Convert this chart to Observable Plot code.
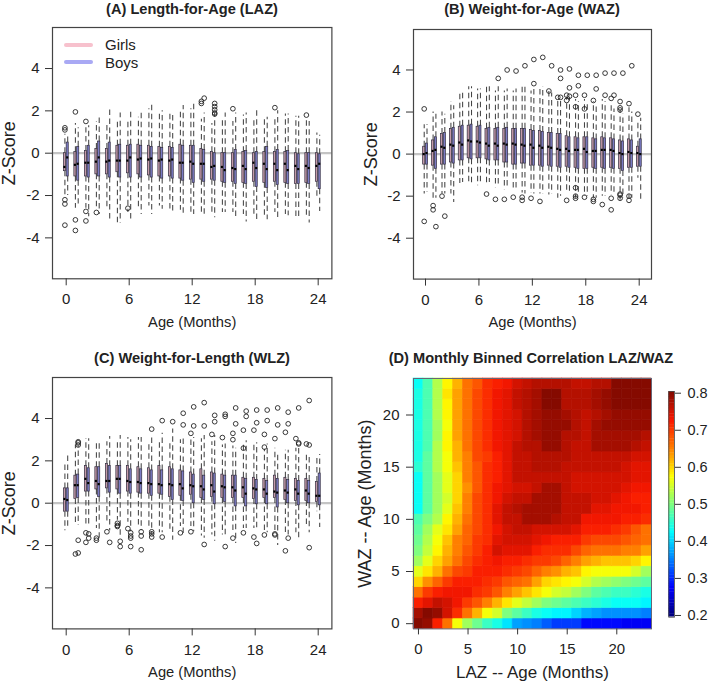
<!DOCTYPE html>
<html><head><meta charset="utf-8">
<script src="https://cdn.jsdelivr.net/npm/d3@7"></script>
<script src="https://cdn.jsdelivr.net/npm/@observablehq/plot@0.6"></script>
<style>
html,body{margin:0;padding:0;background:#fff}
#page{position:relative;width:709px;height:682px;overflow:hidden;font-family:"Liberation Sans",Arial,sans-serif;color:#222}
#page svg{position:absolute;background:transparent;font-family:"Liberation Sans",Arial,sans-serif;overflow:visible}
#page figure{margin:0}
.t{position:absolute;font-weight:bold;font-size:14.6px;text-align:center;white-space:nowrap}
.lg{position:absolute;font-size:15px;white-space:nowrap}
.sw{position:absolute;height:4px;width:29px;border-radius:2px}
g[aria-label="y-axis label"] text{font-size:18px}
g[aria-label="x-axis label"] text{font-size:14.7px}
.big g[aria-label="x-axis label"] text{font-size:17px}
</style></head><body><div id="page"></div>
<script>
const ages=d3.range(0,25);
const zTicks=[-4,-2,0,2,4], ageTicks=[0,6,12,18,24];

// (A) LAZ
const lazGirlQ1=[-.85,-1.1,-1.1,-1,-1,-.9,-.95,-1,-1.05,-1.1,-1.1,-1.2,-1.25,-1.25,-1.25,-1.35,-1.35,-1.4,-1.35,-1.4,-1.35,-1.4,-1.45,-1.4,-1.35];
const lazGirlQ3=[0,.05,.1,.2,.2,.35,.35,.4,.35,.3,.3,.4,.35,.2,.05,0,0,.05,0,.05,.05,.05,0,0,0];
const lazGirlMed=[-.65,-.55,-.45,-.4,-.4,-.35,-.35,-.3,-.3,-.35,-.35,-.45,-.4,-.5,-.65,-.65,-.7,-.6,-.45,-.5,-.5,-.5,-.6,-.6,-.6];
const lazGirlHi=[.9,1.4,1.2,1.5,1.4,1.6,1.6,1.7,2.1,1.95,1.95,2.1,2.1,1.6,1.4,1.6,1.5,1.8,1.7,1.65,1.65,1.85,1.75,1.65,.95];
const lazGirlLo=[-2.1,-2.6,-2.6,-2.6,-2.7,-3.3,-2.8,-2.7,-2.5,-2.5,-2.8,-2.7,-2.9,-2.9,-2.8,-2.8,-2.8,-2.9,-3,-3,-2.8,-2.9,-3,-3,-2.1];
const lazBoyQ1=[-1.1,-1.3,-1.15,-1.1,-1.15,-1.15,-1.15,-1.15,-1.15,-1.2,-1.2,-1.3,-1.4,-1.35,-1.3,-1.4,-1.45,-1.45,-1.6,-1.65,-1.5,-1.45,-1.45,-1.45,-1.7];
const lazBoyQ3=[.5,.3,.35,.55,.5,.4,.4,.35,.3,.25,.25,.35,.35,.15,0,0,.15,.1,.05,.3,.15,.1,-.05,0,-.05];
const lazBoyMed=[-.2,-.5,-.45,-.2,-.35,-.35,-.2,-.25,-.25,-.3,-.3,-.45,-.5,-.5,-.6,-.8,-.75,-.75,-.7,-.75,-.8,-.8,-.75,-.7,-.5];
const lazBoyHi=[.9,1.2,1.3,1.7,2.2,1.9,2,1.9,2.4,2,1.9,2.25,2.45,1.9,1.9,1.9,1.9,1.9,2,1.7,2,1.85,1.75,1.5,.85];
const lazBoyLo=[-2,-2.4,-3,-2.9,-3.2,-3.3,-3.25,-2.9,-2.9,-2.65,-2.9,-2.9,-2.9,-2.9,-3.05,-2.8,-3,-3.25,-3.3,-3.15,-3.2,-2.95,-3,-3.3,-2.75];
const lazOutGirl=[[0,1.2],[0,1.1],[0,-2.2],[0,-2.4],[0,-3.4],[1,1.95],[1,-3.15],[1,-3.65],[2,1.5],[2,-2.75],[2,-3.2],[3,-2.8],[6,-2.6],[13,2.35],[13,2.45],[16,2.1],[20,2.15],[23,1.8]];
const lazOutBoy=[[13,2.6],[14,2.35],[14,2.2],[14,2.05],[14,1.9],[14,1.85]];

// (B) WAZ
const wazGirlQ1=[-.5,-.55,-.5,-.4,-.3,-.2,-.2,-.25,-.3,-.4,-.5,-.45,-.55,-.55,-.55,-.6,-.6,-.65,-.7,-.65,-.65,-.65,-.7,-.65,-.6];
const wazGirlQ3=[.35,.65,.95,1.2,1.3,1.35,1.3,1.2,1.2,1.2,1.2,1.2,1.15,1.1,1,.95,.85,.8,.8,.75,.8,.75,.65,.7,.35];
const wazGirlMed=[0,.15,.35,.45,.55,.65,.6,.5,.5,.5,.5,.45,.45,.4,.35,.25,.25,.2,.25,.15,.2,.2,.05,.1,.05];
const wazGirlHi=[1.4,2,2,2.5,2.9,3.2,3.1,3.2,3,3,3,3.3,3,3.2,3,2.6,2.7,2.6,2.6,2.5,2.6,2.3,2.1,2.2,1.5];
const wazGirlLo=[-1.9,-2.1,-1.9,-1.9,-1.4,-1.4,-1.5,-1.5,-1.6,-1.7,-1.75,-1.85,-1.85,-1.9,-1.95,-2.1,-1.8,-2.1,-2,-2.1,-2,-1.95,-2.2,-2.1,-1.15];
const wazBoyQ1=[-.5,-.7,-.5,-.45,-.3,-.25,-.2,-.3,-.3,-.4,-.5,-.45,-.55,-.6,-.6,-.65,-.65,-.7,-.7,-.7,-.7,-.7,-.8,-.65,-.6];
const wazBoyQ3=[.5,.8,1,1.25,1.35,1.4,1.35,1.25,1.25,1.25,1.2,1.2,1.1,1.05,1,.95,.8,.75,.8,.7,.75,.7,.6,.65,.7];
const wazBoyMed=[.05,.2,.3,.4,.45,.6,.55,.4,.4,.45,.45,.4,.3,.3,.3,.2,.15,.2,.1,.15,.2,.15,0,.05,0];
const wazBoyHi=[1.4,1.9,1.9,2.3,2.9,3.2,3.1,3.2,3.2,3.1,3.1,3.3,3.2,3.2,2.9,2.6,2.7,2.5,2.5,2.4,2.5,2.15,1.9,2,1.7];
const wazBoyLo=[-1.8,-2.1,-1.9,-2.3,-1.35,-1.4,-1.4,-1.35,-1.5,-1.6,-1.75,-1.9,-1.9,-1.9,-1.9,-2,-1.8,-1.85,-2,-2.1,-2,-1.9,-2.1,-2.1,-2.2];
const wazOutGirl=[[0,2.15],[0,-3.2],[1,-2.45],[1,-2.65],[2,-2],[7,-1.9],[8,-2.15],[9,-2.15],[10,-2.05],[11,-2.05],[11,-2.2],[12,-2.1],[13,-2.25],[14,3],[15,2.7],[16,2.8],[16,2.55],[16,-2.2],[17,2.8],[17,2.25],[17,-1.6],[17,-2],[17,-2.1],[18,2.8],[18,2.15],[18,-2.05],[19,2.55],[19,-2.15],[19,-2.25],[20,-2.4],[21,2.65],[21,-2.1],[21,-2.65],[22,2.5],[22,2.2],[22,2.1],[22,-1.9],[22,-1.95],[22,-2.1],[23,2.4],[23,-2],[23,-2.2],[24,1.9]];
const wazOutBoy=[[1,-3.45],[2,-2.95],[8,3.6],[9,4],[10,3.95],[11,4.2],[12,4.5],[12,3.35],[13,4.6],[14,4.2],[15,4],[15,3.6],[15,2.7],[16,4.05],[16,3.15],[16,2.75],[17,3.75],[17,3.25],[18,3.75],[19,3.75],[19,3.1],[20,3.85],[20,2.8],[21,3.85],[21,2.8],[22,3.85],[23,4.2]];

// (C) WLZ
const wlzGirlQ1=[-.4,.2,.55,.65,.7,.65,.55,.5,.45,.45,.3,.35,.4,.25,.3,.25,.25,.25,.2,.25,.25,.15,.1,.1,.05];
const wlzGirlQ3=[.7,1.3,1.75,1.7,1.85,1.75,1.75,1.7,1.65,1.75,1.7,1.55,1.45,1.6,1.45,1.35,1.3,1.2,1.2,1.15,1.3,1.2,1.15,1.15,1];
const wlzGirlMed=[.2,.85,1.15,1.05,1.05,1.15,1.05,1,.95,.9,.9,.9,.85,.8,.85,.8,.75,.75,.7,.65,.55,.6,.65,.6,.35];
const wlzGirlHi=[1.9,2.75,3.05,2.95,2.9,2.95,3.1,3.1,2.85,2.85,2.9,3,3.1,3.05,2.9,2.75,2.7,2.8,2.8,2.55,2.6,2.5,2.6,2.4,2.2];
const wlzGirlLo=[-1.3,-1,-1,-1.2,-.9,-.8,-.9,-1.15,-1.2,-1.4,-1.4,-1.1,-1.1,-1.55,-1.5,-1.5,-1.4,-1.2,-1.2,-1.3,-1.3,-1.4,-1.4,-1.1,-.4];
const wlzBoyQ1=[-.4,.25,.55,.3,.5,.45,.45,.45,.35,.4,.15,.1,0,.15,-.05,.05,-.15,-.15,-.05,-.05,-.2,0,-.1,0,-.1];
const wlzBoyQ3=[.7,1.35,1.65,1.7,1.75,1.75,1.6,1.6,1.55,1.55,1.6,1.5,1.35,1.3,1.4,1.3,1.3,1.15,1.1,1.05,1.15,1.1,1.05,1.05,1.4];
const wlzBoyMed=[.15,.85,.95,.9,1.05,1.15,1,.95,.9,.85,.85,.7,.8,.65,.55,.75,.6,.45,.65,.45,.5,.5,.45,.45,.35];
const wlzBoyHi=[2.3,2.7,3.05,2.85,3.15,3.2,3,3.1,3.1,3.3,3.5,3.2,3.1,3.2,3.2,2.8,2.6,2.95,2.85,2.8,2.4,2.5,2.6,2.3,2.3];
const wlzBoyLo=[-1.1,-1.05,-1.1,-1.65,-1.3,-1.6,-1.35,-1.3,-1.5,-1.4,-1.75,-1.5,-1.35,-1.65,-1.8,-1.6,-1.9,-1.2,-1.3,-1.4,-2,-1.5,-1.65,-1.4,-1.15];
const wlzOutGirl=[[1,-2.4],[2,-1.4],[2,-1.85],[3,-1.65],[3,-1.75],[4,-1.35],[5,-.95],[5,-1.05],[5,-1.1],[6,-1.2],[11,-1.4],[12,3.3],[12,-1.35],[14,3.25],[15,3.1],[16,3.3],[16,3],[16,-1.65],[17,3.45],[17,2.6],[17,-1.4],[18,3.45],[18,-1.6],[19,3.25],[19,2.65],[19,-1.5],[20,3.05],[20,-1.45],[20,-1.5],[21,3.35],[21,-2.25],[22,3.05],[23,2.8]];
const wlzOutBoy=[[1,-2.35],[1,2.9],[1,2.85],[1,2.75],[1,-1.75],[2,-1.45],[2,-1.65],[4,-1.85],[5,-1.8],[5,-2.05],[6,-1.4],[6,-1.55],[6,-1.65],[6,-2.05],[7,-1.35],[7,-1.55],[7,-2.2],[8,3.5],[8,-1.35],[8,-1.45],[8,-1.6],[9,3.9],[9,-1.6],[10,3.85],[11,4.25],[11,3.7],[12,4.55],[12,3.65],[13,4.75],[13,3.65],[13,-1.95],[14,4.15],[14,3.85],[15,4.2],[15,4.1],[15,-2.05],[16,4.5],[16,3.75],[17,4.35],[17,4.1],[18,4.4],[18,3.8],[18,-1.9],[19,4.4],[19,3.9],[20,4.5],[20,3.7],[21,4.3],[21,3.75],[21,-1.65],[22,4.5],[22,2.85],[22,2.8],[23,4.85],[23,2.75],[23,-2.1]];

// (D) correlation, rows from WAZ month 0 upward, columns LAZ month 0..23
const corrMonths=d3.range(0,24);
const corrRows=[
[.80,.79,.72,.66,.57,.52,.49,.46,.44,.41,.37,.36,.35,.33,.31,.31,.31,.28,.28,.28,.28,.27,.27,.27],
[.78,.80,.79,.75,.71,.66,.62,.57,.55,.50,.48,.46,.44,.43,.42,.42,.40,.38,.37,.36,.36,.36,.36,.35],
[.72,.74,.76,.75,.73,.70,.68,.65,.62,.59,.56,.54,.52,.50,.49,.48,.47,.46,.45,.44,.43,.43,.43,.42],
[.66,.70,.72,.73,.73,.73,.71,.70,.68,.65,.63,.61,.59,.57,.55,.54,.52,.50,.48,.47,.46,.46,.45,.44],
[.60,.64,.67,.70,.72,.72,.72,.71,.70,.68,.67,.66,.63,.60,.59,.58,.57,.55,.53,.52,.51,.50,.49,.48],
[.56,.59,.62,.66,.69,.70,.72,.72,.72,.71,.70,.69,.67,.65,.64,.62,.61,.58,.57,.57,.57,.57,.55,.52],
[.52,.56,.60,.63,.66,.69,.71,.72,.73,.72,.72,.71,.70,.70,.69,.67,.65,.63,.62,.61,.61,.61,.60,.58],
[.50,.54,.58,.62,.65,.68,.70,.72,.75,.74,.74,.74,.72,.71,.71,.71,.69,.67,.66,.66,.66,.65,.65,.63],
[.49,.53,.57,.61,.65,.67,.70,.71,.74,.75,.75,.75,.74,.73,.72,.72,.72,.70,.69,.69,.69,.68,.67,.66],
[.48,.52,.56,.59,.63,.67,.69,.71,.73,.75,.76,.76,.75,.75,.75,.75,.74,.72,.72,.72,.71,.70,.68,.66],
[.47,.50,.53,.58,.62,.66,.69,.71,.74,.76,.76,.78,.78,.78,.77,.76,.76,.73,.73,.73,.73,.72,.72,.71],
[.43,.48,.52,.56,.61,.65,.69,.71,.74,.76,.77,.78,.78,.78,.78,.76,.76,.76,.74,.74,.73,.73,.73,.72],
[.43,.48,.52,.55,.60,.65,.69,.71,.73,.75,.76,.76,.78,.78,.78,.76,.76,.76,.75,.75,.74,.73,.72,.72],
[.43,.48,.52,.56,.60,.64,.68,.71,.73,.74,.75,.75,.76,.78,.78,.76,.75,.75,.75,.75,.75,.74,.73,.73],
[.43,.48,.52,.56,.60,.65,.68,.71,.72,.74,.76,.76,.76,.76,.76,.76,.75,.75,.75,.75,.75,.75,.74,.74],
[.45,.48,.53,.57,.61,.65,.68,.71,.72,.74,.76,.76,.77,.77,.77,.76,.76,.76,.76,.76,.76,.75,.74,.74],
[.44,.48,.53,.57,.62,.65,.69,.70,.72,.74,.76,.76,.77,.77,.77,.77,.76,.76,.76,.76,.76,.76,.75,.75],
[.44,.47,.53,.58,.62,.66,.69,.71,.73,.74,.76,.77,.77,.79,.79,.77,.76,.76,.78,.78,.78,.78,.77,.76],
[.44,.47,.52,.58,.63,.66,.69,.71,.73,.74,.75,.77,.78,.79,.79,.77,.77,.76,.78,.78,.78,.78,.78,.77],
[.44,.47,.52,.57,.63,.66,.69,.71,.73,.74,.75,.77,.78,.79,.79,.79,.77,.76,.78,.79,.79,.79,.79,.79],
[.44,.47,.53,.58,.63,.66,.69,.71,.73,.74,.75,.77,.78,.79,.79,.78,.77,.76,.77,.78,.79,.79,.79,.79],
[.44,.47,.53,.58,.63,.66,.69,.71,.73,.74,.76,.77,.78,.80,.80,.77,.77,.77,.78,.79,.80,.80,.80,.80],
[.44,.47,.53,.59,.63,.66,.69,.71,.73,.74,.76,.77,.78,.80,.80,.77,.77,.77,.78,.79,.80,.80,.80,.80],
[.43,.47,.53,.58,.62,.66,.68,.71,.72,.73,.75,.76,.77,.77,.77,.77,.76,.76,.77,.77,.80,.80,.80,.80]];
const jet=["#00007f","#0000ff","#007fff","#00ffff","#7fff7f","#ffff00","#ff7f00","#fa1800","#850a00"];
const colorDomain=jet.map((_,i)=>.2+.6*i/8);
const barTicks=[.2,.3,.4,.5,.6,.7,.8];
const barLevels=d3.range(.2,.8001,.0075);

const page=document.getElementById("page");
const ink="#333";
function place(svg,left,top){svg.style.left=left+"px";svg.style.top=top+"px";page.appendChild(svg);}
function html(cls,txt,css){const d=document.createElement("div");d.className=cls;d.textContent=txt;Object.assign(d.style,css);page.appendChild(d);}

function boxes(g,oPx,pxPerMonth){
  const off=oPx/pxPerMonth, hw=1.05/pxPerMonth;
  const rows=ages.map(m=>({x:m+off,x1:m+off-hw,x2:m+off+hw,q1:g.q1[m],q3:g.q3[m],med:g.med[m],lo:g.lo[m],hi:g.hi[m]}));
  return [
    Plot.ruleX(rows,{x:"x",y1:"q3",y2:"hi",stroke:"#444",strokeWidth:1.05,strokeDasharray:"5.5 3.5"}),
    Plot.ruleX(rows,{x:"x",y1:"q1",y2:"lo",stroke:"#444",strokeWidth:1.05,strokeDasharray:"5.5 3.5"}),
    Plot.rect(rows,{x1:"x1",x2:"x2",y1:"q1",y2:"q3",fill:g.fill,stroke:"#2f2a3c",strokeWidth:.7}),
    Plot.ruleY(rows,{x1:"x1",x2:"x2",y:"med",stroke:"#000",strokeWidth:2.2}),
    Plot.dot(g.out,{x:d=>d[0]+off,y:d=>d[1],r:2.35,stroke:"#222",strokeWidth:.9,fill:"none"})
  ];
}
function panel(o){
  const pxm=(o.x24-o.x0)/24;
  const W=o.right-o.left+o.ml+14, H=o.bottom-o.top+o.top_m+58;
  const svg=Plot.plot({
    width:W,height:H,marginLeft:o.ml,marginRight:14,marginTop:o.top_m,marginBottom:58,
    style:{background:"transparent",overflow:"visible"},
    x:{domain:[(o.left-o.x0)/pxm,(o.right-o.x0)/pxm]},
    y:{domain:[(o.y0-o.bottom)/o.pxu,(o.y0-o.top)/o.pxu]},
    marks:[
      Plot.ruleY([0],{stroke:"#c4c4c4",strokeWidth:2.2}),
      ...boxes(o.girl,-1.3,pxm),
      ...boxes(o.boy,1.5,pxm),
      Plot.frame({stroke:"#444",strokeWidth:1.2}),
      Plot.axisX({ticks:ageTicks,tickSize:7,tickPadding:8,fontSize:15,stroke:ink,label:"Age (Months)",labelAnchor:"center",labelArrow:"none",labelOffset:48,tickFormat:d=>d}),
      Plot.axisY({ticks:zTicks,tickSize:7,tickPadding:6,fontSize:15,stroke:ink,label:"Z-Score",labelAnchor:"center",labelArrow:"none",labelOffset:o.labOff,tickFormat:d=>d})
    ]
  });
  place(svg,o.left-o.ml,o.top-o.top_m);
}
const GIRL="#c49aa8", BOY="#7b7bc4";
panel({left:52.3,right:331.7,top:27,bottom:278.3,x0:66,x24:318,y0:152.7,pxu:21.17,ml:50,top_m:6,labOff:50,
  girl:{q1:lazGirlQ1,q3:lazGirlQ3,med:lazGirlMed,lo:lazGirlLo,hi:lazGirlHi,out:lazOutGirl,fill:GIRL},
  boy:{q1:lazBoyQ1,q3:lazBoyQ3,med:lazBoyMed,lo:lazBoyLo,hi:lazBoyHi,out:lazOutBoy,fill:BOY}});
panel({left:413.3,right:651.3,top:28.7,bottom:278.3,x0:425.3,x24:639,y0:153.3,pxu:21.03,ml:50,top_m:6,labOff:49,
  girl:{q1:wazGirlQ1,q3:wazGirlQ3,med:wazGirlMed,lo:wazGirlLo,hi:wazGirlHi,out:wazOutGirl,fill:GIRL},
  boy:{q1:wazBoyQ1,q3:wazBoyQ3,med:wazBoyMed,lo:wazBoyLo,hi:wazBoyHi,out:wazOutBoy,fill:BOY}});
panel({left:52.3,right:331.7,top:377.3,bottom:628.7,x0:66,x24:318,y0:503,pxu:21.17,ml:50,top_m:6,labOff:50,
  girl:{q1:wlzGirlQ1,q3:wlzGirlQ3,med:wlzGirlMed,lo:wlzGirlLo,hi:wlzGirlHi,out:wlzOutGirl,fill:GIRL},
  boy:{q1:wlzBoyQ1,q3:wlzBoyQ3,med:wlzBoyMed,lo:wlzBoyLo,hi:wlzBoyHi,out:wlzOutBoy,fill:BOY}});

// (D) heat map
const cells=corrRows.flatMap((r,i)=>r.map((v,j)=>({x1:corrMonths[j]-.5,x2:corrMonths[j]+.5,y1:corrMonths[i]-.5,y2:corrMonths[i]+.5,v})));
const colorOpt={type:"linear",domain:colorDomain,range:jet,clamp:true};
const heat=Plot.plot({
  width:238+50+6,height:250.4+6+58,marginLeft:50,marginRight:6,marginTop:6,marginBottom:58,
  style:{background:"transparent",overflow:"visible"},
  x:{domain:[-.5,23.5]},y:{domain:[-.5,23.5]},color:colorOpt,
  marks:[
    Plot.rect(cells,{x1:"x1",x2:"x2",y1:"y1",y2:"y2",fill:"v",stroke:"v",strokeWidth:.6}),
    Plot.frame({stroke:"#667",strokeWidth:1}),
    Plot.axisX({ticks:[0,5,10,15,20],tickSize:6,tickPadding:8,fontSize:15,stroke:ink,label:"LAZ -- Age (Months)",labelAnchor:"center",labelArrow:"none",labelOffset:49,tickFormat:d=>d}),
    Plot.axisY({ticks:[0,5,10,15,20],tickSize:7,tickPadding:7,fontSize:15,stroke:ink,label:"WAZ -- Age (Months)",labelAnchor:"center",labelArrow:"none",labelOffset:55,tickFormat:d=>d})
  ]
});
heat.classList.add("big");
place(heat,413.3-50,378.3-6);

// colour bar
const step=.0075;
const bar=Plot.plot({
  width:59,height:225.7+12,marginLeft:18.3,marginRight:35,marginTop:6,marginBottom:6,
  style:{background:"transparent",overflow:"visible"},
  x:{domain:[0,1],axis:null},y:{domain:[.1954,.8046]},color:colorOpt,
  marks:[
    Plot.rect(barLevels,{x1:0,x2:1,y1:d=>d-step/2-.0005,y2:d=>d+step/2+.0005,fill:d=>d}),
    Plot.frame({stroke:"#444",strokeWidth:.8}),
    Plot.axisY({anchor:"right",ticks:barTicks,tickSize:6,tickPadding:7,fontSize:14.5,stroke:ink,label:null,tickFormat:d3.format(".1f")})
  ]
});
place(bar,668.3-18.3,391-6);

// titles
html("t","(A) Length-for-Age (LAZ)",{left:"52px",width:"280px",top:"1px"});
html("t","(B) Weight-for-Age (WAZ)",{left:"413px",width:"238px",top:"1px"});
html("t","(C) Weight-for-Length (WLZ)",{left:"52px",width:"280px",top:"350px"});
html("t","(D) Monthly Binned Correlation LAZ/WAZ",{left:"388px",width:"286px",top:"350px"});
// legend
html("sw","",{left:"64px",top:"43px",background:"#f7c1cd"});
html("sw","",{left:"64px",top:"60px",background:"#a9a9f4"});
html("lg","Girls",{left:"105px",top:"36px"});
html("lg","Boys",{left:"105px",top:"54px"});
</script></body></html>
